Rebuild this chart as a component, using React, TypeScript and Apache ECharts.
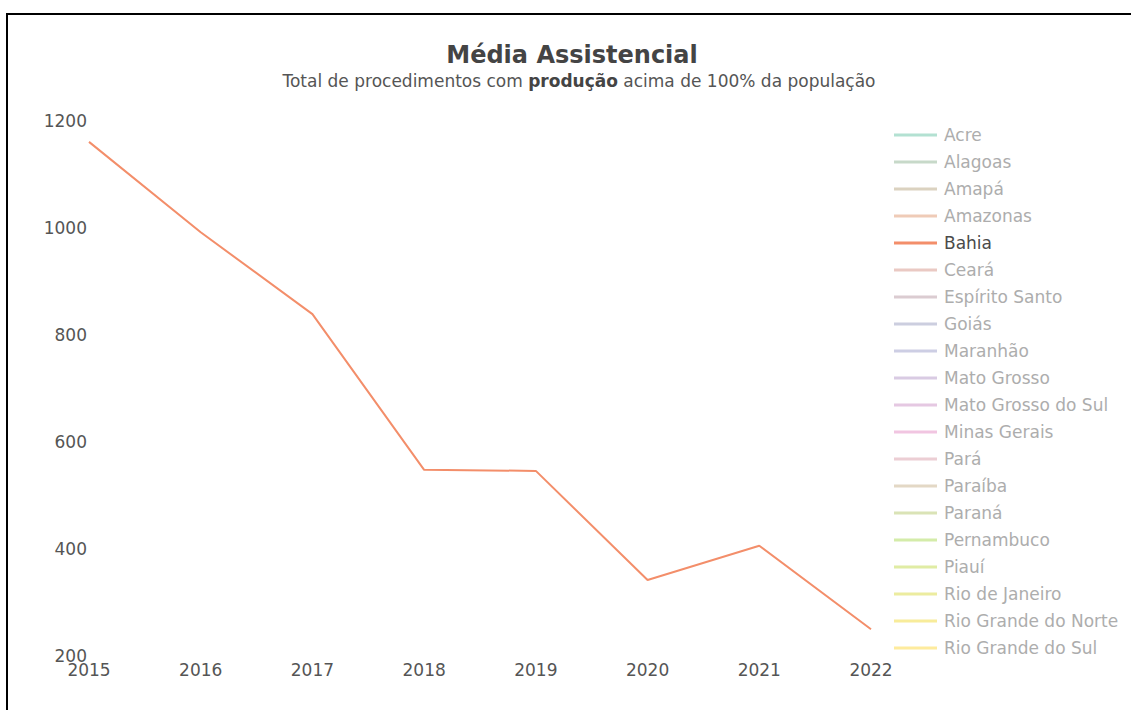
import React, { useEffect, useRef } from "react";
import * as echarts from "echarts";

const years = ["2015", "2016", "2017", "2018", "2019", "2020", "2021", "2022"];
const bahiaValues = [1161, 992, 839, 548, 546, 342, 406, 250];
const states = [
  "Acre", "Alagoas", "Amapá", "Amazonas", "Bahia", "Ceará", "Espírito Santo",
  "Goiás", "Maranhão", "Mato Grosso", "Mato Grosso do Sul", "Minas Gerais",
  "Pará", "Paraíba", "Paraná", "Pernambuco", "Piauí", "Rio de Janeiro",
  "Rio Grande do Norte", "Rio Grande do Sul",
];
const activeState = "Bahia";
const yTicks = { min: 200, max: 1200, interval: 200 };

const set2 = ["#66c2a5", "#fc8d62", "#8da0cb", "#e78ac3", "#a6d854", "#ffd92f", "#e5c494", "#b3b3b3"];
const TOTAL = 27;

function hex(c: string) {
  return [1, 3, 5].map((i) => parseInt(c.slice(i, i + 2), 16));
}
function colorAt(i: number, fade: number) {
  const t = (i * (set2.length - 1)) / (TOTAL - 1);
  const k = Math.min(Math.floor(t), set2.length - 2);
  const f = t - k;
  const a = hex(set2[k]);
  const b = hex(set2[k + 1]);
  const rgb = a.map((v, j) => v + (b[j] - v) * f).map((v) => Math.round(v * fade + 255 * (1 - fade)));
  return `rgb(${rgb[0]},${rgb[1]},${rgb[2]})`;
}

const FONT = "DejaVu Sans";

export default function App() {
  const ref = useRef<HTMLDivElement>(null);
  useEffect(() => {
    if (!ref.current) return;
    const chart = echarts.init(ref.current, null, { renderer: "svg" });
    const series = states.map((s, i) => ({
      name: s,
      type: "line",
      data: s === activeState ? bahiaValues : [],
      showSymbol: false,
      symbol: "none",
      color: colorAt(i, 1),
      lineStyle: { width: 2, color: colorAt(i, 1) },
    }));
    chart.setOption({
      animation: false,
      textStyle: { fontFamily: FONT },
      title: [
        {
          text: "Média Assistencial",
          left: 567,
          top: 38,
          textAlign: "center",
          textStyle: { fontFamily: FONT, fontSize: 24, fontWeight: "bold", color: "#444" },
        },
        {
          text: "Total de procedimentos com {b|produção} acima de 100% da população",
          left: 574,
          top: 67,
          textAlign: "center",
          textStyle: {
            fontFamily: FONT,
            fontSize: 17,
            fontWeight: "normal",
            color: "#555",
            rich: { b: { fontFamily: FONT, fontSize: 17, fontWeight: "bold", color: "#444" } },
          },
        },
      ],
      legend: {
        orient: "vertical",
        left: 894,
        top: 126,
        padding: 0,
        icon: "rect",
        itemWidth: 43,
        itemHeight: 3,
        itemGap: 9,
        textStyle: { fontFamily: FONT, fontSize: 17, lineHeight: 18, color: "#adadad", padding: [0, 0, 0, 2] },
        data: states.map((s, i) => ({
          name: s,
          itemStyle: { color: colorAt(i, s === activeState ? 1 : 0.5) },
          textStyle: { color: s === activeState ? "#4a4a4a" : "#adadad" },
        })),
        selectedMode: false,
      },
      grid: { left: 89, right: 260, top: 121, bottom: 54, containLabel: false },
      xAxis: {
        type: "category",
        data: years,
        boundaryGap: false,
        axisLine: { show: false },
        axisTick: { show: false },
        axisLabel: { color: "#555", fontSize: 17, fontFamily: FONT, margin: 5 },
        splitLine: { show: false },
      },
      yAxis: {
        type: "value",
        min: yTicks.min,
        max: yTicks.max,
        interval: yTicks.interval,
        axisLine: { show: false },
        axisTick: { show: false },
        splitLine: { show: false },
        axisLabel: {
          color: "#555",
          fontSize: 17,
          fontFamily: FONT,
          margin: 2,
          formatter: (v: number) => String(v),
        },
      },
      series,
    });
    return () => chart.dispose();
  }, []);
  return (
    <div style={{ position: "absolute", left: 0, top: 0, width: 1131, height: 710, background: "#fff", overflow: "hidden" }}>
      <div
        style={{
          position: "absolute",
          left: 6,
          top: 13,
          width: 1200,
          height: 800,
          borderTop: "2px solid #000",
          borderLeft: "2px solid #000",
        }}
      />
      <div ref={ref} style={{ position: "absolute", left: 0, top: 0, width: 1131, height: 710 }} />
    </div>
  );
}
